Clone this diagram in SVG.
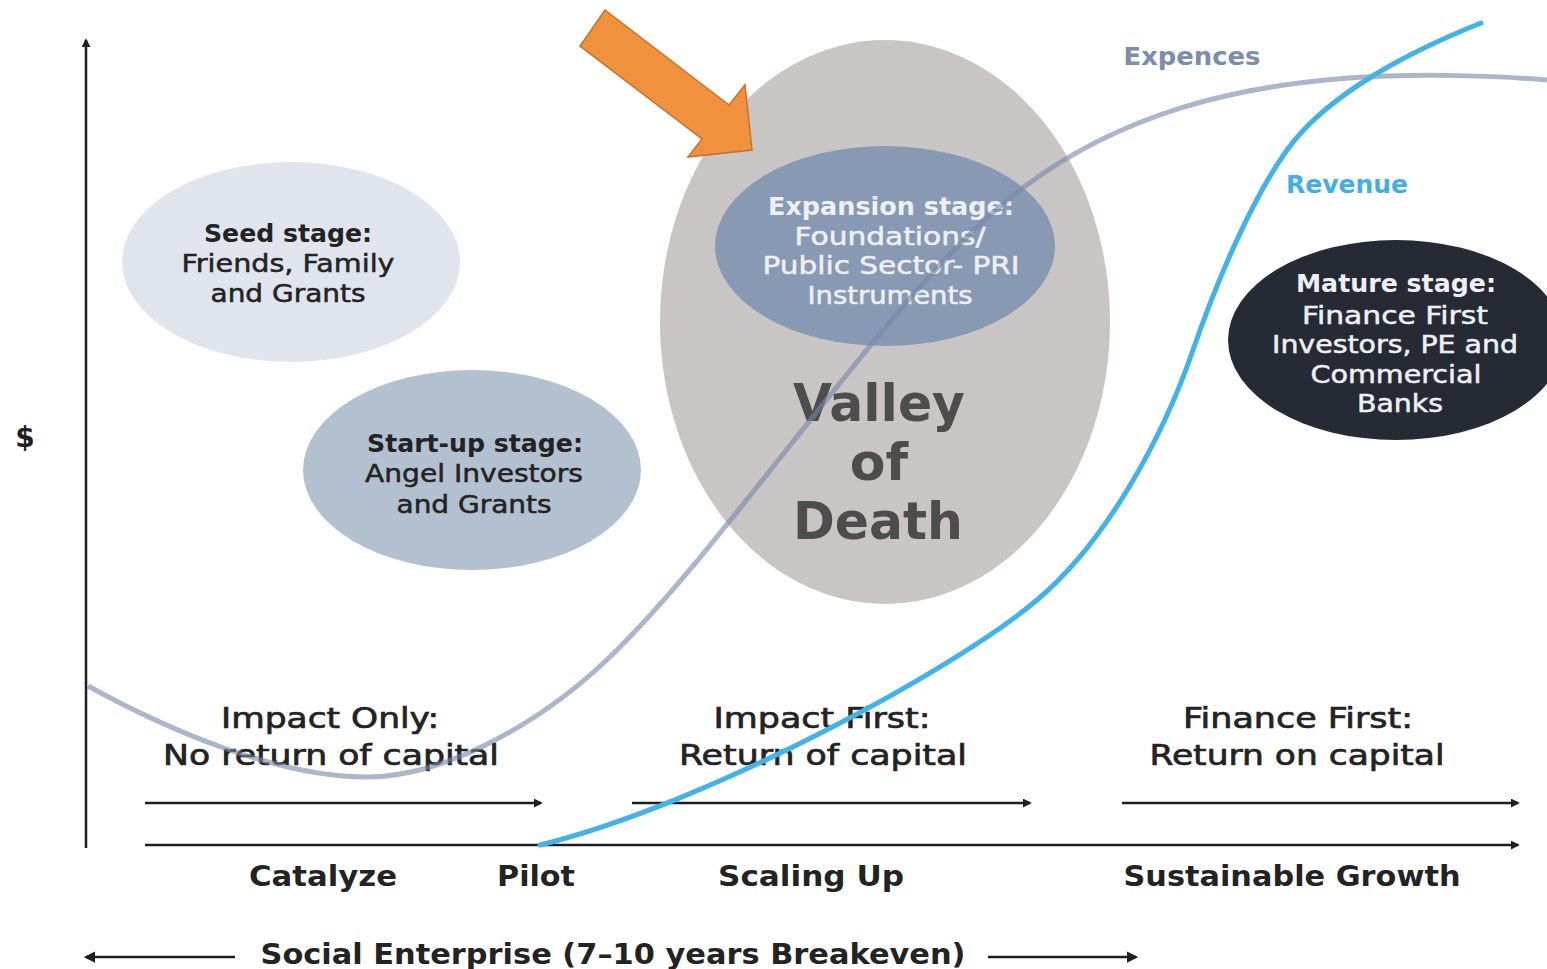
<svg xmlns="http://www.w3.org/2000/svg" width="1547" height="969" viewBox="0 0 1547 969">
<defs>
<style>
.t{font-family:"DejaVu Sans","Liberation Sans",sans-serif;text-anchor:middle}
.b{font-weight:bold}
.dk{fill:#232323}
.wh{fill:#eef0f4}
.bub{font-size:24px}
.lab{font-size:28px}
.med{stroke:#232323;stroke-width:0.7px}
.medw{stroke:#eef0f4;stroke-width:0.5px}
.medd{stroke:#232323;stroke-width:0.5px}
.ax{stroke:#1e1e1e;stroke-width:2.5;fill:none}
</style>
<marker id="ah" viewBox="0 0 10 10" refX="8" refY="5" markerWidth="3.6" markerHeight="3.6" markerUnits="strokeWidth" orient="auto">
<path d="M0,0 L10,5 L0,10 z" fill="#1e1e1e"/>
</marker>
<marker id="ahb" viewBox="0 0 10 10" refX="8" refY="5" markerWidth="4.5" markerHeight="4.5" markerUnits="strokeWidth" orient="auto">
<path d="M0,0 L10,5 L0,10 z" fill="#1e1e1e"/>
</marker>
</defs>
<rect width="1547" height="969" fill="#ffffff"/>

<g id="seed">
<ellipse cx="291" cy="262" rx="169" ry="100" fill="#e0e5ed"/>
<text class="t b bub dk" x="288" y="242" textLength="168" lengthAdjust="spacingAndGlyphs">Seed stage:</text>
<text class="t bub dk medd" x="288" y="272" textLength="213" lengthAdjust="spacingAndGlyphs">Friends, Family</text>
<text class="t bub dk medd" x="288" y="302" textLength="155" lengthAdjust="spacingAndGlyphs">and Grants</text>
</g>

<g id="startup">
<ellipse cx="472" cy="470" rx="169" ry="100" fill="#b3c0d0"/>
<text class="t b bub dk" x="475" y="452" textLength="216" lengthAdjust="spacingAndGlyphs">Start-up stage:</text>
<text class="t bub dk medd" x="474" y="482" textLength="218" lengthAdjust="spacingAndGlyphs">Angel Investors</text>
<text class="t bub dk medd" x="474" y="513" textLength="155" lengthAdjust="spacingAndGlyphs">and Grants</text>
</g>

<g id="valley">
<ellipse cx="885" cy="322" rx="225" ry="282" fill="#c9c5c4"/>
<text class="t b" x="879" y="421" font-size="52" fill="#4d4d4d" textLength="172" lengthAdjust="spacingAndGlyphs">Valley</text>
<text class="t b" x="879" y="480" font-size="52" fill="#4d4d4d">of</text>
<text class="t b" x="878" y="539" font-size="52" fill="#4d4d4d" textLength="170" lengthAdjust="spacingAndGlyphs">Death</text>
</g>

<g id="expansion">
<ellipse cx="885" cy="246" rx="170" ry="100" fill="#8899b3"/>
<text class="t b bub wh" x="891" y="215" textLength="246" lengthAdjust="spacingAndGlyphs">Expansion stage:</text>
<text class="t bub wh medw" x="890" y="245" textLength="191" lengthAdjust="spacingAndGlyphs">Foundations/</text>
<text class="t bub wh medw" x="891" y="274" textLength="257" lengthAdjust="spacingAndGlyphs">Public Sector- PRI</text>
<text class="t bub wh medw" x="890" y="304" textLength="165" lengthAdjust="spacingAndGlyphs">Instruments</text>
</g>

<g id="mature">
<ellipse cx="1396" cy="340" rx="168" ry="100" fill="#252a34"/>
<text class="t b bub wh" x="1396" y="292" textLength="200" lengthAdjust="spacingAndGlyphs">Mature stage:</text>
<text class="t bub wh medw" x="1395" y="324" textLength="186" lengthAdjust="spacingAndGlyphs">Finance First</text>
<text class="t bub wh medw" x="1395" y="353" textLength="246" lengthAdjust="spacingAndGlyphs">Investors, PE and</text>
<text class="t bub wh medw" x="1396" y="383" textLength="171" lengthAdjust="spacingAndGlyphs">Commercial</text>
<text class="t bub wh medw" x="1400" y="412" textLength="86" lengthAdjust="spacingAndGlyphs">Banks</text>
</g>

<g id="labels">
<text class="t b" x="25" y="447" font-size="28" fill="#1e1e1e">$</text>
<text class="t lab dk med" x="330" y="728" textLength="218" lengthAdjust="spacingAndGlyphs">Impact Only:</text>
<text class="t lab dk med" x="331" y="765" textLength="336" lengthAdjust="spacingAndGlyphs">No return of capital</text>
<text class="t lab dk med" x="822" y="728" textLength="217" lengthAdjust="spacingAndGlyphs">Impact First:</text>
<text class="t lab dk med" x="823" y="765" textLength="288" lengthAdjust="spacingAndGlyphs">Return of capital</text>
<text class="t lab dk med" x="1298" y="728" textLength="230" lengthAdjust="spacingAndGlyphs">Finance First:</text>
<text class="t lab dk med" x="1297" y="765" textLength="295" lengthAdjust="spacingAndGlyphs">Return on capital</text>
<text class="t b lab dk" x="323" y="886" textLength="148" lengthAdjust="spacingAndGlyphs">Catalyze</text>
<text class="t b lab dk" x="536" y="886" textLength="78" lengthAdjust="spacingAndGlyphs">Pilot</text>
<text class="t b lab dk" x="811" y="886" textLength="186" lengthAdjust="spacingAndGlyphs">Scaling Up</text>
<text class="t b lab dk" x="1292" y="886" textLength="337" lengthAdjust="spacingAndGlyphs">Sustainable Growth</text>
<text class="t b lab dk" x="613" y="964" textLength="705" lengthAdjust="spacingAndGlyphs">Social Enterprise (7–10 years Breakeven)</text>
<text class="t b" x="1192" y="65" font-size="24" fill="#7b8cae" textLength="137" lengthAdjust="spacingAndGlyphs">Expences</text>
<text class="t b" x="1347" y="193" font-size="24" fill="#3fb0e6" textLength="122" lengthAdjust="spacingAndGlyphs">Revenue</text>
</g>

<g id="connectors">
<line class="ax" x1="86" y1="848" x2="86" y2="40" marker-end="url(#ah)"/>
<line class="ax" x1="145" y1="803" x2="541" y2="803" marker-end="url(#ah)"/>
<line class="ax" x1="632" y1="803" x2="1030" y2="803" marker-end="url(#ah)"/>
<line class="ax" x1="1122" y1="803" x2="1518" y2="803" marker-end="url(#ah)"/>
<line class="ax" x1="145" y1="845" x2="1518" y2="845" marker-end="url(#ah)"/>
<line class="ax" x1="235" y1="957" x2="86" y2="957" marker-end="url(#ahb)"/>
<line class="ax" x1="988" y1="957" x2="1136" y2="957" marker-end="url(#ahb)"/>
<path id="expenses" d="M88,686 C168,730 277,777 367,777 C447,777 547,720 617,650 C677,590 732,518 792,443 C862,356 944,247 1024,187 C1124,112 1239,86 1349,78 C1420,73 1500,76 1547,80" fill="none" stroke="#7586a8" stroke-opacity="0.6" stroke-width="5"/>
<path id="revenue" d="M540,845 C710,803 957,668 1037,600 C1107,541 1163,437 1193,350 C1218,278 1252,199 1287,150 C1327,94 1411,51 1481,23" fill="none" stroke="#42b3e8" stroke-width="5" stroke-linecap="round"/>
<polygon id="pointer" points="605,10 729,105 745,85 752,150 688,157 702,139 580,46" fill="#f0913e" stroke="#c8702a" stroke-width="1.5" stroke-linejoin="miter"/>
</g>
</svg>
